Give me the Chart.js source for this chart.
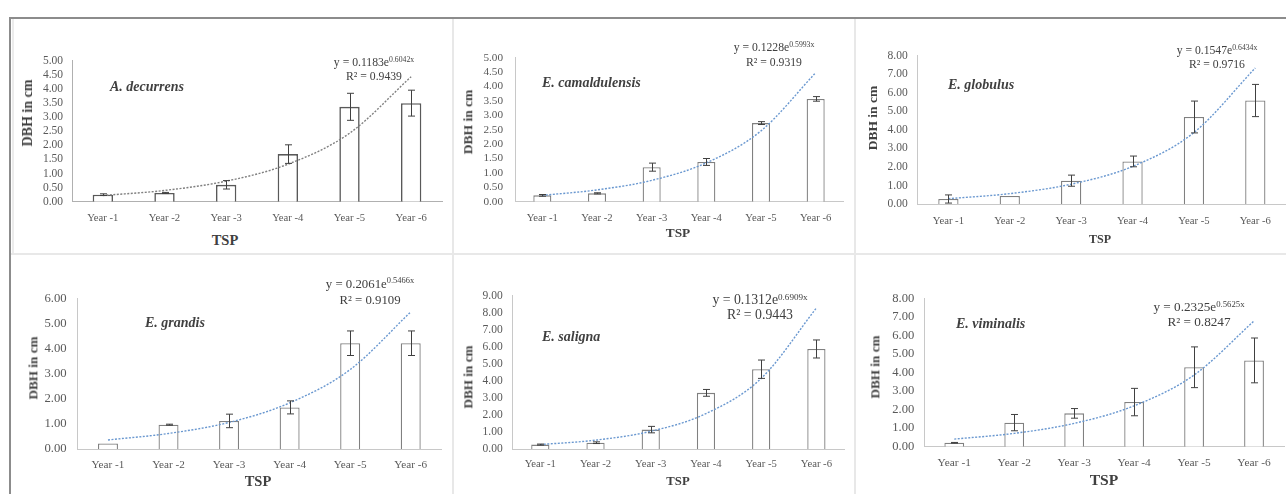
<!DOCTYPE html>
<html>
<head>
<meta charset="utf-8">
<script src="https://cdn.jsdelivr.net/npm/chart.js@4.4.0/dist/chart.umd.min.js"></script>
<style>
  body { margin: 0; background: #fff; }
  #page { position: relative; width: 1286px; height: 494px; overflow: hidden; background: #fff;
          font-family: "Liberation Serif", "Times New Roman", serif; }
  #page canvas { position: absolute; }
  .rule { position: absolute; }
  .txt { position: absolute; white-space: nowrap; line-height: 1; }
  .eq { text-align: center; color: #404040; }
  .sup { font-size: 0.66em; position: relative; top: -0.5em; }
  .species { font-weight: bold; font-style: italic; color: #404040; transform: translateY(-50%); }
  .ytitle { font-weight: bold; color: #404040; transform: translate(-50%, -50%) rotate(-90deg); }
  .xtitle { font-weight: bold; color: #404040; transform: translate(-50%, -50%); }
</style>
</head>
<body>
<div id="page"></div>
<script>
const years = ['Year -1', 'Year -2', 'Year -3', 'Year -4', 'Year -5', 'Year -6'];

// mean DBH (cm) and standard error for each species
const decurrensMean = [0.25, 0.31, 0.60, 1.69, 3.37, 3.50];
const decurrensErr = [0.03, 0.02, 0.15, 0.33, 0.48, 0.46];
const camaldulensisMean = [0.22, 0.29, 1.20, 1.38, 2.73, 3.57];
const camaldulensisErr = [0.03, 0.02, 0.14, 0.12, 0.05, 0.08];
const globulusMean = [0.27, 0.43, 1.26, 2.30, 4.70, 5.59];
const globulusErr = [0.22, 0, 0.30, 0.29, 0.86, 0.87];
const grandisMean = [0.22, 0.97, 1.12, 1.66, 4.22, 4.22];
const grandisErr = [0, 0.02, 0.27, 0.26, 0.49, 0.49];
const salignaMean = [0.26, 0.37, 1.14, 3.30, 4.69, 5.88];
const salignaErr = [0.03, 0.05, 0.19, 0.20, 0.54, 0.53];
const viminalisMean = [0.21, 1.30, 1.80, 2.41, 4.29, 4.66];
const viminalisErr = [0.02, 0.44, 0.26, 0.74, 1.10, 1.21];

// exponential trend line, read at each year
const decurrensTrend = [0.22, 0.40, 0.73, 1.33, 2.43, 4.44];
const camaldulensisTrend = [0.22, 0.41, 0.74, 1.35, 2.46, 4.48];
const globulusTrend = [0.29, 0.56, 1.07, 2.03, 3.86, 7.35];
const grandisTrend = [0.36, 0.62, 1.06, 1.84, 3.17, 5.47];
const salignaTrend = [0.26, 0.52, 1.04, 2.08, 4.15, 8.29];
const viminalisTrend = [0.41, 0.72, 1.26, 2.21, 3.87, 6.79];

const speciesNames = ['A. decurrens', 'E. camaldulensis', 'E. globulus', 'E. grandis', 'E. saligna', 'E. viminalis'];
const eqCoef = ['0.1183', '0.1228', '0.1547', '0.2061', '0.1312', '0.2325'];
const eqRate = ['0.6042', '0.5993', '0.6434', '0.5466', '0.6909', '0.5625'];
const rSquared = ['0.9439', '0.9319', '0.9716', '0.9109', '0.9443', '0.8247'];
const yMax = [5, 5, 8, 6, 9, 8];
const yStep = [0.5, 0.5, 1, 1, 1, 1];

const means = [decurrensMean, camaldulensisMean, globulusMean, grandisMean, salignaMean, viminalisMean];
const errs = [decurrensErr, camaldulensisErr, globulusErr, grandisErr, salignaErr, viminalisErr];
const trends = [decurrensTrend, camaldulensisTrend, globulusTrend, grandisTrend, salignaTrend, viminalisTrend];

// page layout of each panel (pixels)
const layout = [
  { axisX: 72, right: 442, top: 56.7, zero: 201.7, tickSize: 11.5, catSize: 10.7, xPad: 10, yPad: 9,
    bar: '#595959', barW: 1.6, trend: '#808080', axis: '#b0b0b0',
    eqX: 374, eqY: 62, eqSize: 11.7, eqGap: 13, spX: 110, spY: 87, dbhX: 28, dbhY: 113, dbhSize: 14,
    tspX: 225, tspY: 240, tspSize: 14.5 },
  { axisX: 515, right: 843, top: 51, zero: 201.7, tickSize: 11.2, catSize: 10.7, xPad: 10, yPad: 12,
    bar: '#808080', barW: 1.3, trend: '#6a98d0', axis: '#c8c8c8',
    eqX: 774, eqY: 47, eqSize: 11.7, eqGap: 14, spX: 542, spY: 83, dbhX: 468, dbhY: 122, dbhSize: 13.5,
    tspX: 678, tspY: 233, tspSize: 13.3 },
  { axisX: 917.7, right: 1286, top: 51, zero: 204, tickSize: 11.5, catSize: 10.7, xPad: 11, yPad: 10,
    bar: '#808080', barW: 1.3, trend: '#6a98d0', axis: '#c8c8c8',
    eqX: 1217, eqY: 50, eqSize: 11.7, eqGap: 13, spX: 948, spY: 85, dbhX: 873, dbhY: 118, dbhSize: 13.5,
    tspX: 1100, tspY: 239, tspSize: 12 },
  { axisX: 77.7, right: 441, top: 291.7, zero: 449, tickSize: 12.7, catSize: 11.2, xPad: 9, yPad: 11,
    bar: '#808080', barW: 1.3, trend: '#6a98d0', axis: '#c8c8c8',
    eqX: 370, eqY: 283, eqSize: 12.8, eqGap: 15, spX: 145, spY: 323, dbhX: 33, dbhY: 368, dbhSize: 13.2,
    tspX: 258, tspY: 481, tspSize: 14.5 },
  { axisX: 512.7, right: 844, top: 291, zero: 449, tickSize: 11.5, catSize: 10.7, xPad: 9, yPad: 10,
    bar: '#808080', barW: 1.3, trend: '#6a98d0', axis: '#c8c8c8',
    eqX: 760, eqY: 300, eqSize: 13.8, eqGap: 14, spX: 542, spY: 337, dbhX: 468, dbhY: 377, dbhSize: 13.2,
    tspX: 678, tspY: 481, tspSize: 12.7 },
  { axisX: 924.3, right: 1284, top: 292.7, zero: 446.7, tickSize: 12.6, catSize: 11.4, xPad: 9, yPad: 10,
    bar: '#808080', barW: 1.3, trend: '#6a98d0', axis: '#c8c8c8',
    eqX: 1199, eqY: 307, eqSize: 13.2, eqGap: 14, spX: 956, spY: 324, dbhX: 875, dbhY: 367, dbhSize: 13.2,
    tspX: 1104, tspY: 480, tspSize: 15.6 }
];

const page = document.getElementById('page');
const serif = '"Liberation Serif", "Times New Roman", serif';

function rule(x, y, w, h, color) {
  const d = document.createElement('div');
  d.className = 'rule';
  d.style.cssText = `left:${x}px;top:${y}px;width:${w}px;height:${h}px;background:${color}`;
  page.appendChild(d);
}

// panel frames
rule(9, 17, 1277, 2, '#8c8c8c');
rule(9, 17, 2, 477, '#8c8c8c');
rule(12, 19, 2, 235, '#ececec');
rule(452, 19, 2, 475, '#e8e8e8');
rule(854, 19, 2, 475, '#e8e8e8');
rule(11, 253, 1275, 2, '#e8e8e8');

function text(cls, html, css) {
  const d = document.createElement('div');
  d.className = 'txt ' + cls;
  d.innerHTML = html;
  d.style.cssText = css;
  page.appendChild(d);
}

const errorBars = {
  id: 'errorBars',
  afterDatasetsDraw(chart) {
    const ds = chart.data.datasets[0];
    const meta = chart.getDatasetMeta(0);
    const y = chart.scales.y;
    const ctx = chart.ctx;
    ctx.save();
    ctx.strokeStyle = '#404040';
    ctx.lineWidth = 1;
    meta.data.forEach((bar, i) => {
      const e = ds.errors[i];
      if (!e) return;
      const x = Math.round(bar.x) + 0.5;
      const y1 = y.getPixelForValue(ds.data[i] + e);
      const y2 = y.getPixelForValue(Math.max(0, ds.data[i] - e));
      ctx.beginPath();
      ctx.moveTo(x, y1); ctx.lineTo(x, y2);
      ctx.moveTo(x - 3.5, y1); ctx.lineTo(x + 3.5, y1);
      ctx.moveTo(x - 3.5, y2); ctx.lineTo(x + 3.5, y2);
      ctx.stroke();
    });
    ctx.restore();
  }
};

layout.forEach((p, k) => {
  const left = Math.round(p.axisX - 52);
  const top = Math.round(p.top - 12);
  const width = Math.min(1286, Math.round(p.right) + 2) - left;
  const height = Math.round(p.zero) + 28 - top;

  const canvas = document.createElement('canvas');
  canvas.width = width;
  canvas.height = height;
  canvas.style.left = left + 'px';
  canvas.style.top = top + 'px';
  canvas.style.width = width + 'px';
  canvas.style.height = height + 'px';
  page.appendChild(canvas);

  new Chart(canvas, {
    type: 'bar',
    data: {
      labels: years,
      datasets: [{
        type: 'bar',
        data: means[k],
        errors: errs[k],
        backgroundColor: '#ffffff',
        borderColor: p.bar,
        borderWidth: p.barW,
        categoryPercentage: 1,
        barPercentage: 0.33,
        order: 2
      }, {
        type: 'line',
        data: trends[k],
        borderColor: p.trend,
        borderWidth: 1.4,
        borderDash: [2, 1.5],
        pointRadius: 0,
        cubicInterpolationMode: 'monotone',
        fill: false,
        order: 1
      }]
    },
    options: {
      responsive: false,
      animation: false,
      devicePixelRatio: 1,
      layout: {
        padding: { left: 0, top: p.top - top, right: left + width - p.right, bottom: 0 }
      },
      scales: {
        x: {
          grid: { display: false, drawTicks: false },
          border: { display: true, color: p.axis, width: 1 },
          ticks: {
            color: '#595959',
            font: { family: serif, size: p.catSize },
            padding: p.xPad,
            maxRotation: 0,
            autoSkip: false
          },
          afterFit: s => { s.height = top + height - p.zero; }
        },
        y: {
          min: 0,
          max: yMax[k],
          grid: { display: false, drawTicks: false },
          border: { display: true, color: p.axis, width: 1 },
          ticks: {
            stepSize: yStep[k],
            autoSkip: false,
            color: '#595959',
            font: { family: serif, size: p.tickSize },
            padding: p.yPad,
            callback: v => Number(v).toFixed(2)
          },
          afterFit: s => { s.width = p.axisX - left; }
        }
      },
      plugins: {
        legend: { display: false },
        tooltip: { enabled: false }
      }
    },
    plugins: [errorBars]
  });

  // trend equation, species and axis titles
  text('eq', `y = ${eqCoef[k]}e<span class="sup">${eqRate[k]}x</span><br>R² = ${rSquared[k]}`,
    `left:${p.eqX - 70}px;top:${p.eqY - p.eqSize / 2}px;width:140px;font-size:${p.eqSize}px;line-height:${p.eqGap}px`);
  text('species', speciesNames[k], `left:${p.spX}px;top:${p.spY}px;font-size:14px`);
  text('ytitle', 'DBH in cm', `left:${p.dbhX}px;top:${p.dbhY}px;font-size:${p.dbhSize}px`);
  text('xtitle', 'TSP', `left:${p.tspX}px;top:${p.tspY}px;font-size:${p.tspSize}px`);
});
</script>
</body>
</html>
